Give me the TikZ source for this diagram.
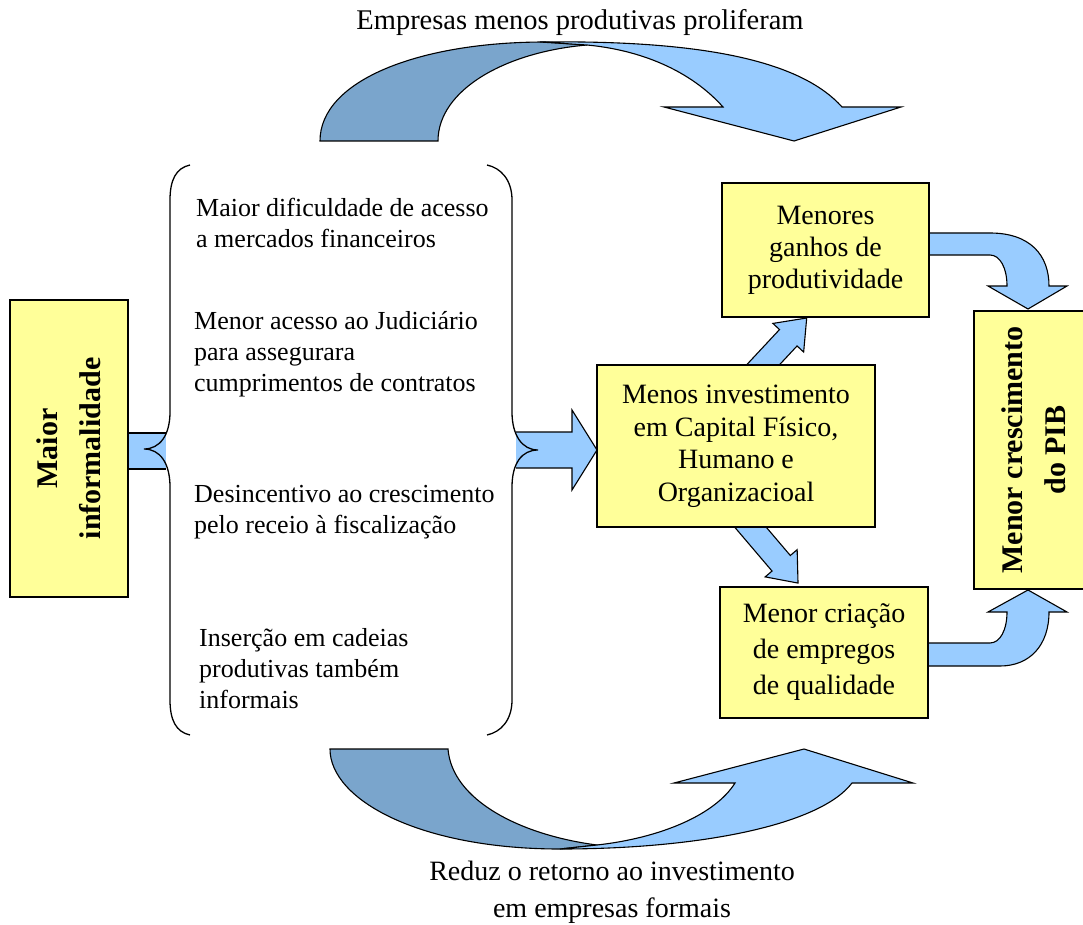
\documentclass[tikz,border=0pt]{standalone}
\usepackage{fontspec}
\setmainfont{Liberation Serif}
\usepackage{tikz}
\usetikzlibrary{calc, positioning}
\usepackage{xcolor}
\definecolor{boxyellow}{RGB}{255, 255, 153}
\definecolor{flowblue}{RGB}{153, 204, 255}
\definecolor{backblue}{RGB}{122, 165, 204}

\tikzset{
  ybox/.style={draw, line width=1.3, fill=boxyellow, inner sep=0pt},
  flow/.style={fill=flowblue, draw, line width=1.1},
  flowback/.style={fill=backblue, draw, line width=1.1},
  brace/.style={draw, line width=1.3},
  item/.style={anchor=west, align=left, inner sep=0pt, font=\fontsize{26}{31}\selectfont},
}

\begin{document}
\begin{tikzpicture}[x=1pt, y=-1pt, font=\fontsize{28}{34}\selectfont]
  \useasboundingbox (0,0) rectangle (1083,925);

  % Upper loop arrow
  \path[flowback] (320,141) .. controls (320,80) and (420,42) .. (545,42) -- (587,45)
    .. controls (505,52) and (438,90) .. (438,141) -- cycle;
  \path[flow] (540,42) .. controls (700,40) and (800,60) .. (842,107) -- (901,107) -- (794,141)
    -- (664,107) -- (723,107) .. controls (690,70) and (640,50) .. (587,45) -- cycle;
  \node[font=\fontsize{28.5}{34}\selectfont] (prolif) at (580,23) {Empresas menos produtivas proliferam};

  % Lower loop arrow
  \path[flowback] (330,749) -- (448,749) .. controls (452,800) and (520,835) .. (597,845)
    -- (560,849) .. controls (420,849) and (330,800) .. (330,749) -- cycle;
  \path[flow] (560,849) .. controls (700,849) and (820,825) .. (852,783) -- (913,783) -- (804,749)
    -- (674,783) -- (735,783) .. controls (715,815) and (660,838) .. (597,845) -- cycle;
  \node[align=center, font=\fontsize{28}{37}\selectfont] (retorno) at (612,892)
    {Reduz o retorno ao investimento\\em empresas formais};

  % Stubs and arrows joining the braces
  \path[flow] (166,433) -- (128,433) -- (128,469) -- (166,469);
  \path[flow] (516,432) -- (572,432) -- (572,410) -- (597,450) -- (572,490) -- (572,468) -- (516,468);

  % Braces round the list
  \draw[brace] (190,165) .. controls (176,168) and (170,180) .. (170,200) -- (170,412)
    .. controls (170,435) and (160,449) .. (144,449) .. controls (160,449) and (170,463) .. (170,487)
    -- (170,700) .. controls (170,720) and (176,732) .. (190,735);
  \draw[brace] (487,165) .. controls (501,168) and (512,180) .. (512,200) -- (512,412)
    .. controls (512,435) and (522,450) .. (538,450) .. controls (522,450) and (512,463) .. (512,487)
    -- (512,700) .. controls (512,720) and (501,732) .. (487,735);

  \node[item] (credito) at (196,223) {Maior dificuldade de acesso\\a mercados financeiros};
  \node[item] (judic) at (194,354) {Menor acesso ao Judiciário\\para assegurara\\cumprimentos de contratos};
  \node[item] (fiscal) at (194,512) {Desincentivo ao crescimento\\pelo receio à fiscalização};
  \node[item] (cadeia) at (199,669) {Inserção em cadeias\\produtivas também\\informais};

  % Small arrows out of the investment box
  \begin{scope}[shift={(761,367)}, rotate=47]
    \path[flow] (-30,-12) -- (40,-12) -- (40,-21) -- (67,0) -- (40,21) -- (40,12) -- (-30,12) -- cycle;
  \end{scope}
  \begin{scope}[shift={(752,529)}, rotate=-49.6]
    \path[flow] (-30,-12) -- (45,-12) -- (45,-21) -- (71,0) -- (45,21) -- (45,12) -- (-30,12) -- cycle;
  \end{scope}

  % Bent arrows into the GDP box
  \path[flow] (900,233) -- (990,233) .. controls (1030,233) and (1049,255) .. (1049,286) -- (1067,286)
    -- (1028,309) -- (988,286) -- (1007,286) .. controls (1007,268) and (1000,255) .. (990,255)
    -- (900,255) -- cycle;
  \path[flow] (900,666) -- (1000,666) .. controls (1030,666) and (1049,645) .. (1049,612) -- (1067,612)
    -- (1028,590) -- (988,612) -- (1007,612) .. controls (1007,630) and (1000,643) .. (990,643)
    -- (900,643) -- cycle;

  % Boxes
  \node[ybox, rotate=90, minimum width=297, minimum height=118, align=center,
    font=\bfseries\fontsize{30}{43}\selectfont] (informal) at (69,448.5) {Maior\\informalidade};
  \node[ybox, minimum width=278, minimum height=162, align=center,
    font=\fontsize{28}{32.5}\selectfont] (invest) at (736,446)
    {Menos investimento\\em Capital Físico,\\Humano e\\Organizacioal};
  \node[ybox, minimum width=207, minimum height=134, align=center,
    font=\fontsize{28}{32}\selectfont] (ganhos) at (825.5,250) {Menores\\ganhos de\\produtividade};
  \node[ybox, minimum width=208, minimum height=131, align=center,
    font=\fontsize{28}{36}\selectfont] (empregos) at (824,652.5) {Menor criação\\de empregos\\de qualidade};
  \node[ybox, rotate=90, minimum width=278, minimum height=120, align=center,
    font=\bfseries\fontsize{30}{43}\selectfont] (pib) at (1034,450) {Menor crescimento\\do PIB};
\end{tikzpicture}
\end{document}
